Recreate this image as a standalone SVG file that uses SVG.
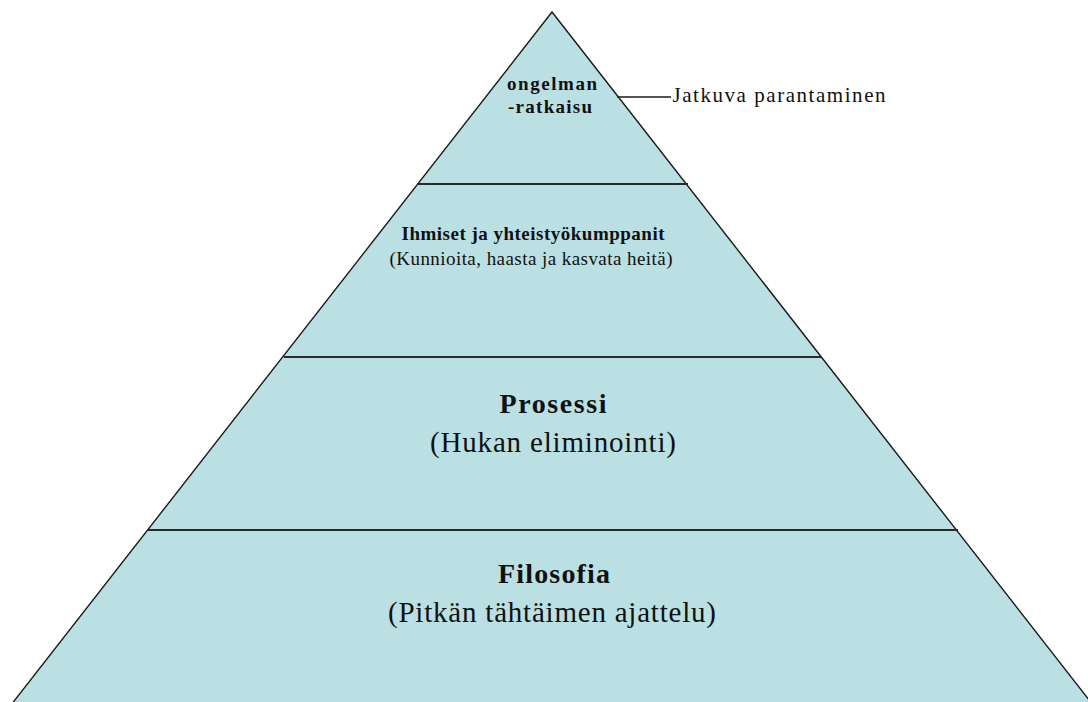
<svg xmlns="http://www.w3.org/2000/svg" width="1088" height="702" viewBox="0 0 1088 702">
  <style>
    .tier { fill: #bbe0e3; stroke: none; }
    .edge { fill: none; stroke: #1a1a1a; stroke-width: 1.4; }
    .divider { stroke: #2a2a2a; stroke-width: 2; }
    .leader { stroke: #1a1a1a; stroke-width: 1.3; }
    text { font-family: "Liberation Serif", "Times New Roman", serif; fill: #111; text-anchor: middle; }
    .bold { font-weight: bold; }
  </style>

  <!-- pyramid body -->
  <g id="pyramid">
    <polygon class="tier" points="552,12 1093,705 11,705"/>
    <polyline class="edge" points="11,705 552,12 1093,705"/>
  </g>

  <!-- tier dividers -->
  <g id="dividers">
    <line class="divider" x1="417" y1="184" x2="688" y2="184"/>
    <line class="divider" x1="284" y1="357" x2="821" y2="357"/>
    <line class="divider" x1="148" y1="530" x2="958" y2="530"/>
  </g>

  <g id="tier-top">
    <text class="bold" x="552" y="90" font-size="19" textLength="90" lengthAdjust="spacing">ongelman</text>
    <text class="bold" x="550" y="113" font-size="19" textLength="84" lengthAdjust="spacing">-ratkaisu</text>
  </g>

  <g id="tier-people">
    <text class="bold" x="533" y="240" font-size="19" textLength="263" lengthAdjust="spacing">Ihmiset ja yhteistyökumppanit</text>
    <text x="531" y="265" font-size="19" textLength="283" lengthAdjust="spacing">(Kunnioita, haasta ja kasvata heitä)</text>
  </g>

  <g id="tier-process">
    <text class="bold" x="553" y="413" font-size="28" textLength="107" lengthAdjust="spacing">Prosessi</text>
    <text x="553" y="452" font-size="29" textLength="246" lengthAdjust="spacing">(Hukan eliminointi)</text>
  </g>

  <g id="tier-philosophy">
    <text class="bold" x="554" y="583" font-size="28" textLength="112" lengthAdjust="spacing">Filosofia</text>
    <text x="552" y="622" font-size="29" textLength="328" lengthAdjust="spacing">(Pitkän tähtäimen ajattelu)</text>
  </g>

  <!-- callout -->
  <g id="connectors">
    <line class="leader" x1="617" y1="97" x2="671" y2="97"/>
  </g>
  <g id="callout">
    <text x="779" y="102" font-size="21" textLength="213" lengthAdjust="spacing">Jatkuva parantaminen</text>
  </g>
</svg>
